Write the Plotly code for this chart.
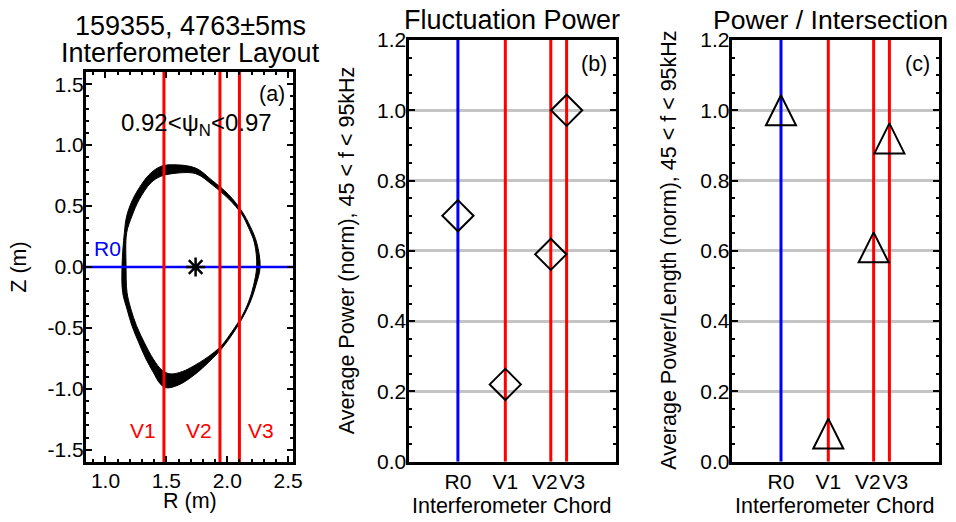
import plotly.graph_objects as go

# the page body has an 8 px margin, so the figure is drawn 8 px in from the window corner
PAGE_OFF = 8
FIG_W, FIG_H = 956 - PAGE_OFF, 522 - PAGE_OFF

# ---------------- data ----------------
# Panel (a): interferometer layout
v_chord_names = ["V1", "V2", "V3"]
v_chord_R = [1.48, 1.94, 2.10]          # vertical chords, major radius (m)
r0_chord_name = "R0"
r0_chord_Z = 0.0                         # radial chord height (m)
mag_axis_R = [1.74]
mag_axis_Z = [0.0]

# flux surface psi_N = 0.97 (outer edge of band)
outer_R = [1.136, 1.155, 1.174, 1.223, 1.304, 1.372, 1.454, 1.549, 1.74, 1.875, 2.011, 2.12,
           2.188, 2.242, 2.27, 2.234, 2.188, 2.12, 2.038, 1.957, 1.875, 1.74, 1.604, 1.5,
           1.449, 1.392, 1.332, 1.272, 1.217, 1.177, 1.141, 1.136]
outer_Z = [0.008, 0.281, 0.417, 0.553, 0.69, 0.771, 0.825, 0.839, 0.812, 0.711, 0.594, 0.458,
           0.335, 0.199, 0.0, -0.155, -0.291, -0.427, -0.558, -0.667, -0.754, -0.877, -0.966, -0.991,
           -0.958, -0.863, -0.754, -0.618, -0.482, -0.346, -0.209, 0.008]
# flux surface psi_N = 0.92 (inner edge of band)
inner_R = [1.169, 1.174, 1.217, 1.277, 1.372, 1.454, 1.549, 1.74, 1.875, 2.011, 2.12, 2.175,
           2.223, 2.242, 2.215, 2.175, 2.12, 2.038, 1.957, 1.875, 1.74, 1.631, 1.536, 1.468,
           1.392, 1.318, 1.255, 1.209, 1.177, 1.169]
inner_Z = [0.008, 0.281, 0.417, 0.553, 0.69, 0.744, 0.766, 0.766, 0.676, 0.559, 0.431, 0.322,
           0.199, 0.008, -0.155, -0.286, -0.405, -0.531, -0.64, -0.713, -0.803, -0.858, -0.877, -0.85,
           -0.754, -0.618, -0.482, -0.346, -0.209, 0.008]

a_x_range = [0.84, 2.54]
a_y_range = [-1.6, 1.6]
a_x_tickvals = [1.0, 1.5, 2.0, 2.5]
a_x_ticktext = ["1.0", "1.5", "2.0", "2.5"]
a_y_tickvals = [-1.5, -1.0, -0.5, 0.0, 0.5, 1.0, 1.5]
a_y_ticktext = ["-1.5", "-1.0", "-0.5", "0.0", "0.5", "1.0", "1.5"]

# Panels (b) and (c)
chord_names = ["R0", "V1", "V2", "V3"]
chord_ticktext = ["R0", "V1", "V2\u00a0\u00a0", "\u00a0\u00a0V3"]   # V2/V3 labels sit side by side
chord_pos = [1.0, 1.48, 1.94, 2.10]
chord_colors = ["#0000ff", "#ff0000", "#ff0000", "#ff0000"]
avg_power = [0.70, 0.22, 0.59, 1.00]
power_per_length = [1.00, 0.08, 0.61, 0.92]

bc_x_range = [0.5, 2.6]
bc_y_range = [0.0, 1.2]

# ---------------- helpers ----------------
FONT = "Liberation Sans, Arial, Helvetica, sans-serif"


def px_x(px):
    return (px - PAGE_OFF) / FIG_W


def px_y(py):
    return 1 - (py - PAGE_OFF) / FIG_H


fig = go.Figure()

# ---------------- panel (a) ----------------
fig.add_trace(go.Scatter(x=outer_R, y=outer_Z, mode="lines", xaxis="x", yaxis="y",
                         line=dict(color="black", width=1, shape="spline"),
                         fill="toself", fillcolor="black", hoverinfo="skip", showlegend=False))
fig.add_trace(go.Scatter(x=inner_R, y=inner_Z, mode="lines", xaxis="x", yaxis="y",
                         line=dict(color="black", width=1, shape="spline"),
                         fill="toself", fillcolor="white", hoverinfo="skip", showlegend=False))
fig.add_trace(go.Scatter(x=a_x_range, y=[r0_chord_Z, r0_chord_Z], mode="lines", xaxis="x", yaxis="y",
                         line=dict(color="#0000ff", width=2.5), hoverinfo="skip", showlegend=False))
for R in v_chord_R:
    fig.add_trace(go.Scatter(x=[R, R], y=a_y_range, mode="lines", xaxis="x", yaxis="y",
                             line=dict(color="#ff0000", width=3), hoverinfo="skip", showlegend=False))
fig.add_trace(go.Scatter(x=mag_axis_R, y=mag_axis_Z, mode="markers", xaxis="x", yaxis="y",
                         marker=dict(symbol="asterisk-open", size=16, color="black",
                                     line=dict(color="black", width=2.5)),
                         showlegend=False))

# ---------------- panels (b) and (c) ----------------
for xa, ya in (("x2", "y2"), ("x3", "y3")):
    for pos, col in zip(chord_pos, chord_colors):
        fig.add_trace(go.Scatter(x=[pos, pos], y=bc_y_range, mode="lines", xaxis=xa, yaxis=ya,
                                 line=dict(color=col, width=3), hoverinfo="skip", showlegend=False))

fig.add_trace(go.Scatter(x=chord_pos, y=avg_power, mode="markers", xaxis="x2", yaxis="y2",
                         marker=dict(symbol="diamond-open", size=24, color="black",
                                     line=dict(color="black", width=2)),
                         showlegend=False))
fig.add_trace(go.Scatter(x=chord_pos, y=power_per_length, mode="markers", xaxis="x3", yaxis="y3",
                         marker=dict(symbol="arrow-down-open", size=30, angle=180, standoff=15,
                                     color="black", line=dict(color="black", width=2)),
                         showlegend=False))

# ---------------- axes ----------------
base_axis = dict(showline=True, linewidth=3, linecolor="black", mirror="ticks",
                 ticks="inside", ticklen=6, tickwidth=2, tickcolor="black",
                 zeroline=False, showgrid=False, automargin=False, tickangle=0,
                 tickfont=dict(size=21, color="black", family=FONT))


def minor(dt):
    return dict(dtick=dt, tick0=0, ticks="inside", ticklen=3, tickwidth=2,
                tickcolor="black", showgrid=False)


layout_axes = dict(
    xaxis=dict(base_axis, domain=[px_x(86), px_x(293)], range=a_x_range,
               tickmode="array", tickvals=a_x_tickvals, ticktext=a_x_ticktext,
               minor=minor(0.1), anchor="y", ticklabelstandoff=-2),
    yaxis=dict(base_axis, domain=[px_y(462), px_y(72)], range=a_y_range,
               tickmode="array", tickvals=a_y_tickvals, ticktext=a_y_ticktext,
               minor=minor(0.1), anchor="x", ticklabelstandoff=-5),
    xaxis2=dict(base_axis, domain=[px_x(408.5), px_x(616)], range=bc_x_range,
                tickmode="array", tickvals=chord_pos, ticktext=chord_ticktext,
                ticks="", mirror=True, anchor="y2", ticklabelstandoff=-1),
    yaxis2=dict(base_axis, domain=[px_y(461.7), px_y(40)], range=bc_y_range,
                dtick=0.2, tick0=0, tickformat=".1f", showgrid=True,
                gridcolor="#c4c4c4", gridwidth=2.5, minor=minor(0.05), anchor="x2",
                ticklabelstandoff=-5),
    xaxis3=dict(base_axis, domain=[px_x(731.7), px_x(938.7)], range=bc_x_range,
                tickmode="array", tickvals=chord_pos, ticktext=chord_ticktext,
                ticks="", mirror=True, anchor="y3", ticklabelstandoff=-1),
    yaxis3=dict(base_axis, domain=[px_y(461.7), px_y(40)], range=bc_y_range,
                dtick=0.2, tick0=0, tickformat=".1f", showgrid=True,
                gridcolor="#c4c4c4", gridwidth=2.5, minor=minor(0.05), anchor="x3",
                ticklabelstandoff=-5),
)

# ---------------- text ----------------
annotations = []


def ann(text, px, py, size, xanchor="center", yanchor="middle", color="black", angle=0):
    annotations.append(dict(text=text, x=px_x(px), y=px_y(py), xref="paper", yref="paper",
                            xanchor=xanchor, yanchor=yanchor, showarrow=False, textangle=angle,
                            borderpad=0, font=dict(size=size, color=color, family=FONT)))


ann("159355, 4763±5ms", 190, 26, 27)
ann("Interferometer Layout", 190, 52.5, 27)
ann("Fluctuation Power", 512.2, 19.6, 27)
ann("Power / Intersection", 830.5, 19.6, 26.6)

ann("Z (m)", 19, 267.7, 21.5, angle=-90)
ann("R (m)", 189.5, 500.5, 21.5)
ann("Average Power (norm), 45 &lt; f &lt; 95kHz", 346.5, 250.8, 21.5, angle=-90)
ann("Average Power/Length (norm), 45 &lt; f &lt; 95kHz", 669, 250.8, 21.5, angle=-90)
ann("Interferometer Chord", 512.2, 505.8, 21.5)
ann("Interferometer Chord", 835.2, 505.8, 21.5)

ann("(a)", 286, 94, 21.5, xanchor="right")
ann("(b)", 608.3, 64, 21.5, xanchor="right")
ann("(c)", 931, 64, 21.5, xanchor="right")
ann("0.92&lt;ψ<sub>N</sub>&lt;0.97", 196, 124.4, 24)

ann(r0_chord_name, 93, 248.3, 21, xanchor="left", color="#0000ff")
ann(v_chord_names[0], 156.7, 430.5, 21, xanchor="right", color="#ff0000")
ann(v_chord_names[1], 213, 430.5, 21, xanchor="right", color="#ff0000")
ann(v_chord_names[2], 246.7, 430.5, 21, xanchor="left", color="#ff0000")

fig.update_layout(
    width=FIG_W, height=FIG_H,
    margin=dict(l=0, r=0, t=0, b=0),
    paper_bgcolor="white", plot_bgcolor="white",
    font=dict(family=FONT, color="black"),
    showlegend=False,
    annotations=annotations,
    **layout_axes,
)

fig.write_html("out.html")
